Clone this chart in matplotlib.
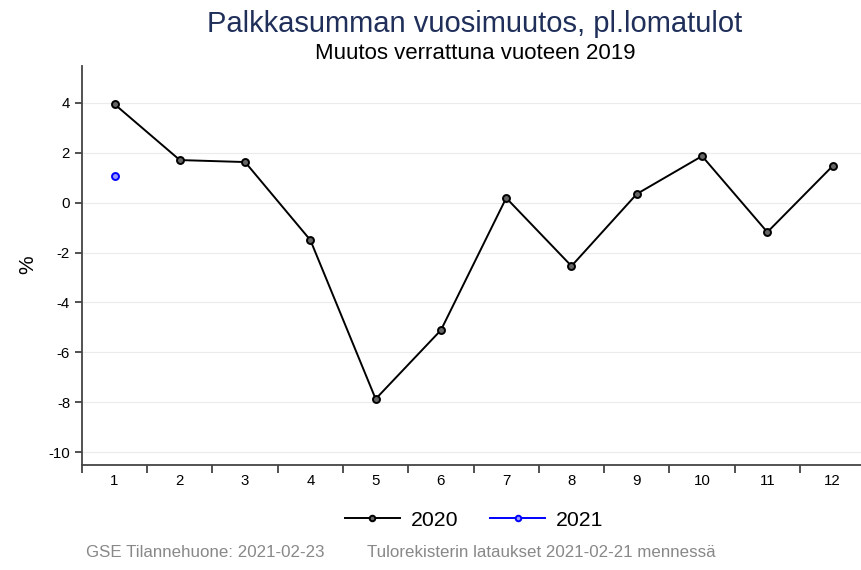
import numpy as np
import matplotlib
matplotlib.use("Agg")
from matplotlib import pyplot as plt
from matplotlib.ticker import FixedLocator

plt.rcParams['font.family'] = ['Liberation Sans', 'DejaVu Sans']
plt.rcParams['axes.unicode_minus'] = False

# ---------------------------------------------------------------------------
# Data
# ---------------------------------------------------------------------------
months = [1, 2, 3, 4, 5, 6, 7, 8, 9, 10, 11, 12]
values_2020 = [3.95, 1.71, 1.63, -1.50, -7.87, -5.11, 0.19, -2.54, 0.35, 1.87, -1.18, 1.47]
months_2021 = [1]
values_2021 = [1.07]
y_ticks = [4, 2, 0, -2, -4, -6, -8, -10]

title = "Palkkasumman vuosimuutos, pl.lomatulot"
subtitle = "Muutos verrattuna vuoteen 2019"
footer_left = "GSE Tilannehuone: 2021-02-23"
footer_right = "Tulorekisterin lataukset 2021-02-21 mennessä"

fig = plt.figure(figsize=(8.62, 5.70), dpi=100)
ax = fig.add_axes([0.095, 0.185, 0.905, 0.70])

ax.plot(months, values_2020, color='black', lw=1.4, marker='o', ms=5,
        mfc='#666666', mec='black', mew=1.4, label='2020')
ax.plot(months_2021, values_2021, color='blue', lw=1.4, marker='o', ms=5,
        mfc='#9999ff', mec='blue', mew=1.4, label='2021')

ax.set_xlim(0.5, 12.45)
ax.set_ylim(-10.5, 5.5)
ax.set_xticks(months)
ax.xaxis.set_minor_locator(FixedLocator(np.arange(0.5, 12.6, 1)))
ax.tick_params(axis='x', which='major', length=0, pad=7, labelsize=10.8)
ax.tick_params(axis='x', which='minor', length=6, width=1.2, color='#333333')
ax.set_yticks(y_ticks)
ax.tick_params(axis='y', length=5, width=1.2, color='#333333', labelsize=10.8)
ax.grid(axis='y', color='#ebebeb', lw=0.8)
ax.set_axisbelow(True)

for s in ['top', 'right']:
    ax.spines[s].set_visible(False)
for s in ['left', 'bottom']:
    ax.spines[s].set_color('#444444')
    ax.spines[s].set_linewidth(1.3)

ax.set_ylabel('%', fontsize=15, labelpad=8)

fig.text(0.551, 0.958, title, ha='center', va='center', fontsize=21, color='#1f2f5a')
fig.text(0.551, 0.907, subtitle, ha='center', va='center', fontsize=16, color='black')

fig.legend(loc='center', bbox_to_anchor=(0.55, 0.087), ncol=2, frameon=False,
           fontsize=15.3, handlelength=2.6, handletextpad=0.5,
           columnspacing=1.5, markerscale=0.8)

fig.text(0.1, 0.022, footer_left, fontsize=12.2, color='#888888')
fig.text(0.426, 0.022, footer_right, fontsize=12.2, color='#888888')

fig.savefig('out.png', dpi=100, facecolor='white')
